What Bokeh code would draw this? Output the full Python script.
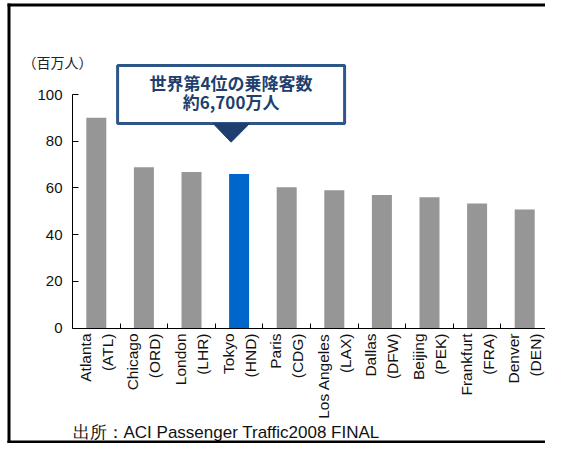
from bokeh.plotting import figure
from bokeh.models import Range1d, FixedTicker, Label, BoxAnnotation
from bokeh.core.properties import value
from bokeh.embed import file_html
from bokeh.resources import INLINE

# ---- data ----
airports = ["Atlanta", "Chicago", "London", "Tokyo", "Paris", "Los Angeles",
            "Dallas", "Beijing", "Frankfurt", "Denver"]
codes = ["ATL", "ORD", "LHR", "HND", "CDG", "LAX", "DFW", "PEK", "FRA", "DEN"]
passengers = [90.0, 68.8, 66.8, 66.0, 60.3, 59.0, 57.0, 56.0, 53.3, 50.7]
highlight = "Tokyo"
y_ticks = [0, 20, 40, 60, 80, 100]
unit_label = "（百万人）"
callout_lines = ["世界第4位の乗降客数", "約6,700万人"]
source_text = "出所：ACI Passenger Traffic2008 FINAL"

# ---- style ----
GRAY = "#969696"
BLUE = "#0066CC"
NAVY = "#1F3F6E"
BOX_LINE = "#2E5689"
JP = "Noto Sans CJK JP"
LAT = "Liberation Sans"

W, H = 545, 443
PX_X = 47.6      # pixels per category
PX_Y = 2.335     # pixels per unit
ORG_X, ORG_Y = 72, 327.5   # pixel position of the data origin

def dx(px):
    return (px - ORG_X) / PX_X

def dy(py):
    return (ORG_Y - py) / PX_Y

n = len(airports)
centers = [i + 0.5 for i in range(n)]
colors = [BLUE if a == highlight else GRAY for a in airports]

X0, X1 = dx(0), dx(W)
Y0, Y1 = dy(H), dy(0)

p = figure(width=W, height=H, output_backend="svg", toolbar_location=None,
           x_range=Range1d(X0, X1), y_range=Range1d(Y0, Y1),
           min_border_left=0, min_border_right=0, min_border_top=0,
           min_border_bottom=0)
p.outline_line_color = None
p.xgrid.visible = False
p.ygrid.visible = False
p.background_fill_color = "white"

p.vbar(x=centers, top=passengers, width=20 / PX_X, fill_color=colors, line_color=None)

# y axis
ya = p.yaxis[0]
ya.fixed_location = 0
ya.ticker = FixedTicker(ticks=y_ticks, minor_ticks=[])
ya.bounds = (0, 100)
ya.major_tick_in = 6
ya.major_tick_out = 0
ya.minor_tick_line_color = None
ya.axis_line_color = "black"
ya.major_tick_line_color = "black"
ya.major_label_standoff = 10
ya.major_label_text_font = LAT
ya.major_label_text_font_size = "15px"
ya.major_label_text_color = "#111111"

# x axis: boundary ticks pointing up; category names as rotated text below
xa = p.xaxis[0]
xa.fixed_location = 0
xa.bounds = (0, X1)
xa.ticker = FixedTicker(ticks=centers, minor_ticks=list(range(1, n)))
xa.major_label_overrides = {c: "" for c in centers}
xa.major_tick_line_color = None
xa.minor_tick_in = 5
xa.minor_tick_out = 0
xa.minor_tick_line_color = "black"
xa.axis_line_color = "black"

lab_y = [dy(333)] * n
half = 11 / PX_X
p.text(x=[c - half for c in centers], y=lab_y, text=airports, angle=3.14159265 / 2,
       text_font=value(LAT), text_font_size="15.5px", text_color="#111111",
       text_align="right", text_baseline="middle")
p.text(x=[c + half for c in centers], y=lab_y, text=[f"({k})" for k in codes],
       angle=3.14159265 / 2,
       text_font=value(LAT), text_font_size="15.5px", text_color="#111111",
       text_align="right", text_baseline="middle")

# callout, pointing at the highlighted bar
ti = airports.index(highlight)
cx = centers[ti] - 8 / PX_X
box_half = 113.5 / PX_X
box_top, box_bot, tip = dy(65), dy(123), dy(141.7)
p.quad(left=[cx - box_half], right=[cx + box_half], top=[box_top], bottom=[box_bot],
       fill_color="white", line_color=BOX_LINE, line_width=3)
p.patch(x=[cx - 18 / PX_X, cx + 18.5 / PX_X, cx], y=[box_bot, box_bot, tip],
        fill_color=NAVY, line_color=NAVY)
p.text(x=[cx, cx], y=[dy(82), dy(101)], text=callout_lines,
       text_font=value(JP), text_font_style="bold", text_font_size="17px",
       text_color=NAVY, text_align="center", text_baseline="middle")

p.add_layout(Label(x=dx(22), y=dy(61), text=unit_label, text_font=JP,
                   text_font_size="14px", text_color="#222222",
                   text_baseline="middle"))
p.add_layout(Label(x=dx(72), y=dy(432), text=source_text, text_font=LAT,
                   text_font_size="17px", text_color="#111111",
                   text_baseline="middle"))

# outer frame: left, top and bottom rules (right edge lies beyond the picture)
for l, r, t, b in [(7, 10, 3, H), (7, W + 20, 3, 6), (7, W + 20, H - 3, H)]:
    p.add_layout(BoxAnnotation(left=dx(l), right=dx(r), top=dy(t), bottom=dy(b),
                               fill_color="black", fill_alpha=1,
                               line_color=None))

open("out.html", "w").write(file_html(p, INLINE))
